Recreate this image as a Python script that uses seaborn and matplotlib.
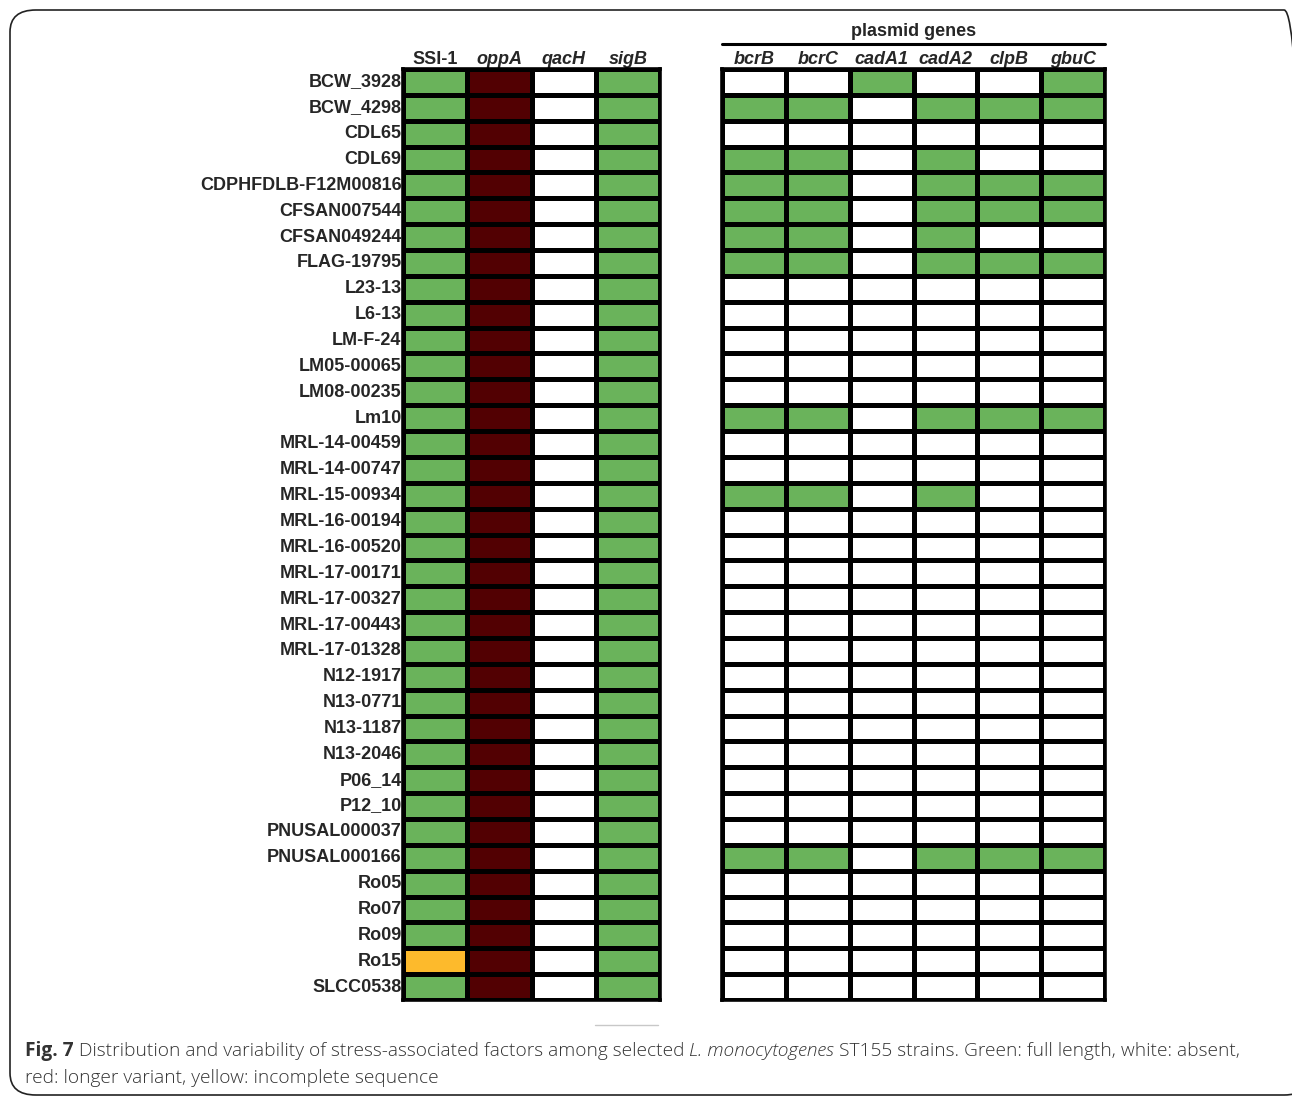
import numpy as np
import pandas as pd
import seaborn as sns
import matplotlib.pyplot as plt
from matplotlib.colors import ListedColormap
from matplotlib.patches import FancyBboxPatch
from matplotlib.lines import Line2D

sns.set_theme(style="white")
plt.rcParams['font.family'] = ['Liberation Sans', 'DejaVu Sans']

strains = ["BCW_3928", "BCW_4298", "CDL65", "CDL69", "CDPHFDLB-F12M00816",
           "CFSAN007544", "CFSAN049244", "FLAG-19795", "L23-13", "L6-13",
           "LM-F-24", "LM05-00065", "LM08-00235", "Lm10", "MRL-14-00459",
           "MRL-14-00747", "MRL-15-00934", "MRL-16-00194", "MRL-16-00520",
           "MRL-17-00171", "MRL-17-00327", "MRL-17-00443", "MRL-17-01328",
           "N12-1917", "N13-0771", "N13-1187", "N13-2046", "P06_14", "P12_10",
           "PNUSAL000037", "PNUSAL000166", "Ro05", "Ro07", "Ro09", "Ro15",
           "SLCC0538"]

chrom_genes = ["SSI-1", "oppA", "qacH", "sigB"]
plasmid_genes = ["bcrB", "bcrC", "cadA1", "cadA2", "clpB", "gbuC"]

# state codes: 0 absent, 1 full length, 2 longer variant, 3 incomplete sequence
ssi1 = [1] * 34 + [3, 1]
oppA = [2] * 36
qacH = [0] * 36
sigB = [1] * 36

# plasmid gene profiles per strain (bcrB, bcrC, cadA1, cadA2, clpB, gbuC)
plasmid_profiles = {
    "BCW_3928":           [0, 0, 1, 0, 0, 1],
    "BCW_4298":           [1, 1, 0, 1, 1, 1],
    "CDL69":              [1, 1, 0, 1, 0, 0],
    "CDPHFDLB-F12M00816": [1, 1, 0, 1, 1, 1],
    "CFSAN007544":        [1, 1, 0, 1, 1, 1],
    "CFSAN049244":        [1, 1, 0, 1, 0, 0],
    "FLAG-19795":         [1, 1, 0, 1, 1, 1],
    "Lm10":               [1, 1, 0, 1, 1, 1],
    "MRL-15-00934":       [1, 1, 0, 1, 0, 0],
    "PNUSAL000166":       [1, 1, 0, 1, 1, 1],
}

chrom_df = pd.DataFrame({"SSI-1": ssi1, "oppA": oppA, "qacH": qacH, "sigB": sigB},
                        index=strains)[chrom_genes]
plasmid_df = pd.DataFrame([plasmid_profiles.get(s, [0] * 6) for s in strains],
                          index=strains, columns=plasmid_genes)

cmap = ListedColormap(["#ffffff", "#6ab35b", "#520002", "#fdba2c"])
label_font = ['Liberation Sans', 'DejaVu Sans']

W, H = 1292, 1096
fig = plt.figure(figsize=(W / 100, H / 100), dpi=100)

def frac_box(x0, y0, x1, y1):
    return [x0 / W, 1 - y1 / H, (x1 - x0) / W, (y1 - y0) / H]

ax1 = fig.add_axes(frac_box(403, 69, 660, 1000))
ax2 = fig.add_axes(frac_box(722, 69, 1105, 1000))

for ax, df, show_rows in [(ax1, chrom_df, True), (ax2, plasmid_df, False)]:
    sns.heatmap(df, ax=ax, cmap=cmap, vmin=-0.5, vmax=3.5, cbar=False,
                linewidths=2.3, linecolor="black", square=False,
                yticklabels=show_rows)
    ax.xaxis.tick_top()
    ax.tick_params(axis="x", length=0, pad=1)
    ax.tick_params(axis="y", length=0, pad=1)
    for sp in ax.spines.values():
        sp.set_visible(True)
        sp.set_color("black")
        sp.set_linewidth(2.6)
    ax.set_xlabel("")
    ax.set_ylabel("")
    for lab in ax.get_xticklabels():
        lab.set_family(label_font)
        lab.set_fontsize(13)
        lab.set_fontweight("bold")
        lab.set_rotation(0)
        if lab.get_text() != "SSI-1":
            lab.set_style("italic")
    if show_rows:
        for lab in ax.get_yticklabels():
            lab.set_family(label_font)
            lab.set_fontsize(13)
            lab.set_fontweight("bold")
            lab.set_rotation(0)

# header over the plasmid block
fig.text((722 + 1105) / 2 / W, 1 - 32 / H, "plasmid genes", ha="center", va="center",
         fontsize=13, fontweight="bold", family=label_font)
fig.add_artist(Line2D([722 / W, 1105 / W], [1 - 44 / H, 1 - 44 / H],
                      color="black", lw=2.2))

# separator and caption
fig.add_artist(Line2D([595 / W, 658 / W], [1 - 1025 / H, 1 - 1025 / H],
                      color="#c8c8c8", lw=1))
cap_font = ['Open Sans', 'DejaVu Sans']
cap_size = 13.8
y1 = 1 - 1051 / H
y2 = 1 - 1078 / H
t = fig.text(25 / W, y1, "Fig. 7", fontsize=cap_size, fontweight="bold",
             family=cap_font, color="#333333", va="center")
fig.canvas.draw()
r = fig.canvas.get_renderer()

def follow(prev, s, **kw):
    bb = prev.get_window_extent(renderer=r)
    return fig.text(bb.x1 / W, y1, s, fontsize=cap_size, family=cap_font,
                    color="#333333", va="center", **kw)

t2 = follow(t, " Distribution and variability of stress-associated factors among selected ",
            fontweight="light")
t3 = follow(t2, "L. monocytogenes", fontweight="light", style="italic")
t4 = follow(t3, " ST155 strains. Green: full length, white: absent,", fontweight="light")
fig.text(25 / W, y2, "red: longer variant, yellow: incomplete sequence", fontsize=cap_size,
         fontweight="light", family=cap_font, color="#333333", va="center")

# rounded frame
frame = FancyBboxPatch((10 / W, 1 - 1095 / H), 1300 / W, (1095 - 10) / H,
                       boxstyle="round,pad=0,rounding_size=0.02",
                       transform=fig.transFigure, fill=False,
                       edgecolor="#222222", lw=1.2, clip_on=False)
fig.add_artist(frame)

fig.savefig("out.png", dpi=100)
